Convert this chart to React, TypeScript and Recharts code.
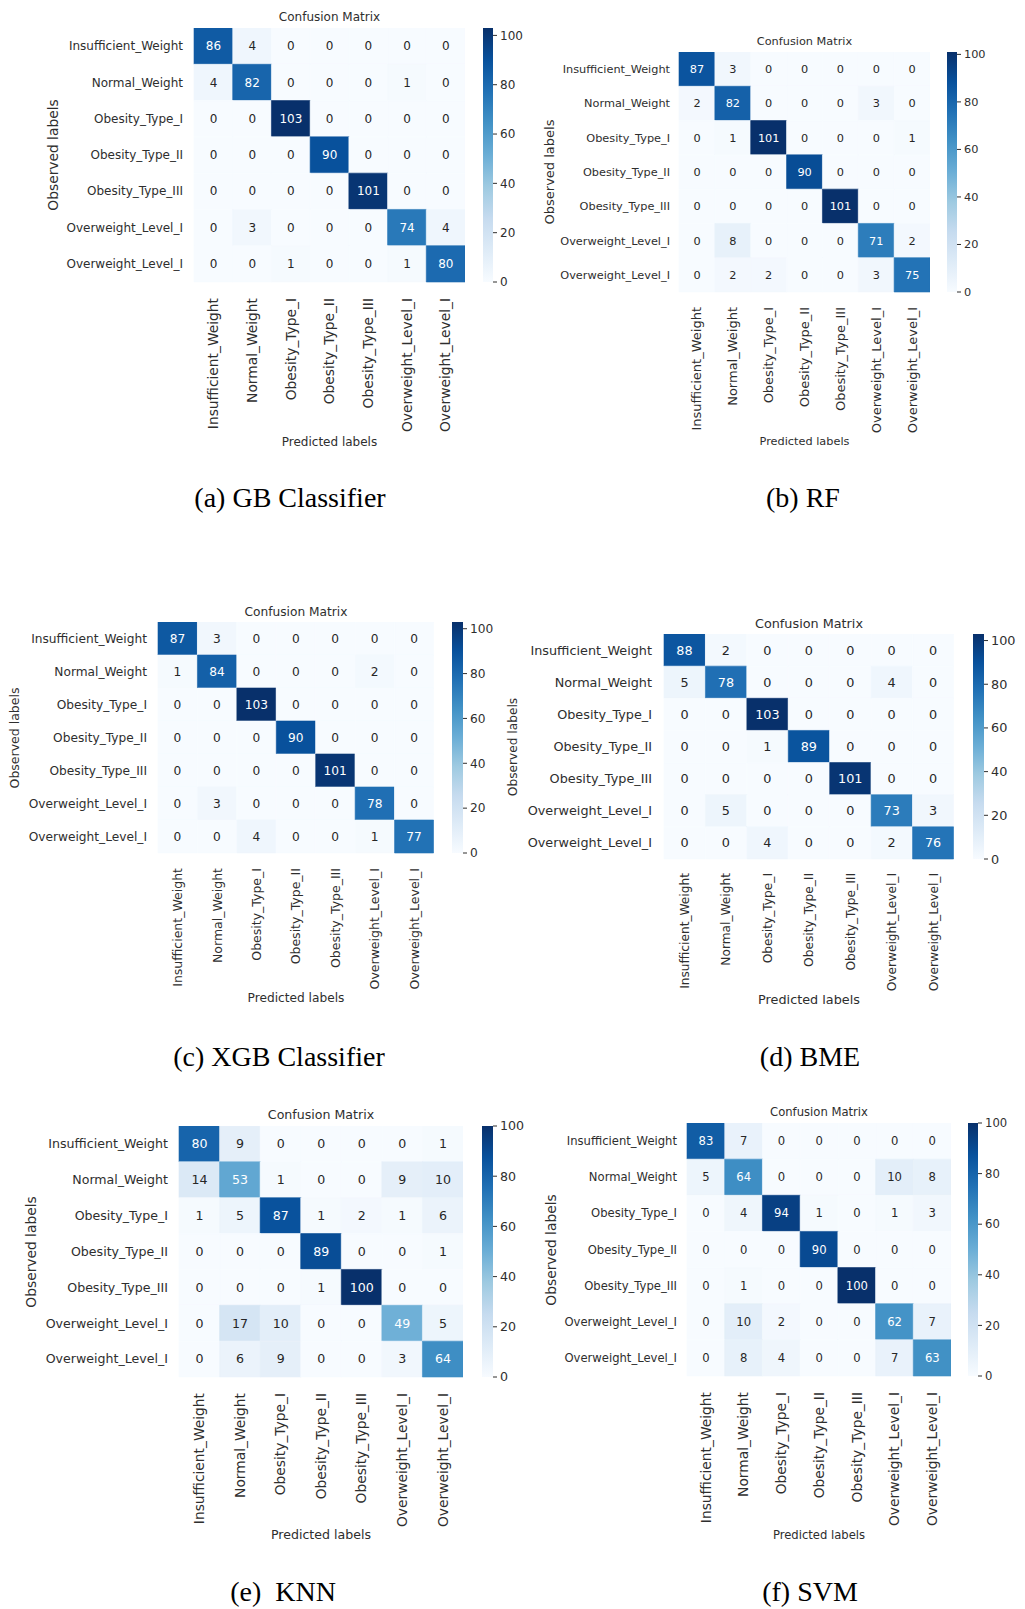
import React from 'react';
import { BarChart, Bar, XAxis, YAxis, Cell, LabelList } from 'recharts';

// class names as printed on both axes (the last one is truncated in the source too)
const classLabels = [
  'Insufficient_Weight',
  'Normal_Weight',
  'Obesity_Type_I',
  'Obesity_Type_II',
  'Obesity_Type_III',
  'Overweight_Level_I',
  'Overweight_Level_I',
];

const colorbarTicks = [0, 20, 40, 60, 80, 100];

// rows = observed, columns = predicted
const gbMatrix = [
  [86, 4, 0, 0, 0, 0, 0],
  [4, 82, 0, 0, 0, 1, 0],
  [0, 0, 103, 0, 0, 0, 0],
  [0, 0, 0, 90, 0, 0, 0],
  [0, 0, 0, 0, 101, 0, 0],
  [0, 3, 0, 0, 0, 74, 4],
  [0, 0, 1, 0, 0, 1, 80],
];
const rfMatrix = [
  [87, 3, 0, 0, 0, 0, 0],
  [2, 82, 0, 0, 0, 3, 0],
  [0, 1, 101, 0, 0, 0, 1],
  [0, 0, 0, 90, 0, 0, 0],
  [0, 0, 0, 0, 101, 0, 0],
  [0, 8, 0, 0, 0, 71, 2],
  [0, 2, 2, 0, 0, 3, 75],
];
const xgbMatrix = [
  [87, 3, 0, 0, 0, 0, 0],
  [1, 84, 0, 0, 0, 2, 0],
  [0, 0, 103, 0, 0, 0, 0],
  [0, 0, 0, 90, 0, 0, 0],
  [0, 0, 0, 0, 101, 0, 0],
  [0, 3, 0, 0, 0, 78, 0],
  [0, 0, 4, 0, 0, 1, 77],
];
const bmeMatrix = [
  [88, 2, 0, 0, 0, 0, 0],
  [5, 78, 0, 0, 0, 4, 0],
  [0, 0, 103, 0, 0, 0, 0],
  [0, 0, 1, 89, 0, 0, 0],
  [0, 0, 0, 0, 101, 0, 0],
  [0, 5, 0, 0, 0, 73, 3],
  [0, 0, 4, 0, 0, 2, 76],
];
const knnMatrix = [
  [80, 9, 0, 0, 0, 0, 1],
  [14, 53, 1, 0, 0, 9, 10],
  [1, 5, 87, 1, 2, 1, 6],
  [0, 0, 0, 89, 0, 0, 1],
  [0, 0, 0, 1, 100, 0, 0],
  [0, 17, 10, 0, 0, 49, 5],
  [0, 6, 9, 0, 0, 3, 64],
];
const svmMatrix = [
  [83, 7, 0, 0, 0, 0, 0],
  [5, 64, 0, 0, 0, 10, 8],
  [0, 4, 94, 1, 0, 1, 3],
  [0, 0, 0, 90, 0, 0, 0],
  [0, 1, 0, 0, 100, 0, 0],
  [0, 10, 2, 0, 0, 62, 7],
  [0, 8, 4, 0, 0, 7, 63],
];

// matplotlib "Blues"
const BLUES = ['#f7fbff', '#deebf7', '#c6dbef', '#9ecae1', '#6baed6', '#4292c6', '#2171b5', '#08519c', '#08306b'];

const hexToRgb = (h: string) => [1, 3, 5].map((k) => parseInt(h.slice(k, k + 2), 16));

const blues = (t: number) => {
  const s = Math.max(0, Math.min(1, t)) * (BLUES.length - 1);
  const i = Math.min(Math.floor(s), BLUES.length - 2);
  const f = s - i;
  const a = hexToRgb(BLUES[i]);
  const b = hexToRgb(BLUES[i + 1]);
  return a.map((c, k) => Math.round(c + (b[k] - c) * f));
};

const rgbStr = (c: number[]) => `rgb(${c[0]},${c[1]},${c[2]})`;

// seaborn picks white text on dark cells
const textOn = (c: number[]) => {
  const lin = c.map((v) => {
    const x = v / 255;
    return x <= 0.03928 ? x / 12.92 : Math.pow((x + 0.055) / 1.055, 2.4);
  });
  const lum = 0.2126 * lin[0] + 0.7152 * lin[1] + 0.0722 * lin[2];
  return lum > 0.408 ? '#262626' : '#ffffff';
};

const FONT = '"DejaVu Sans", sans-serif';
const INK = '#2e2e2e';
const AXIS_W = 150;
const AXIS_H = 150;
const CB_PAD = 10; // room above/below the colorbar so end tick labels are not clipped

const panels = [
  { id: 'a', matrix: gbMatrix, caption: '(a) GB Classifier', L: 194, T: 28, W: 271, H: 254, yGap: 11, xGap: 16, titleY: 17, obsX: 54, predY: 442, cbX: 483, cbW: 10, capX: 290, capY: 498, fs: 12, vfs: 13.8 },
  { id: 'b', matrix: rfMatrix, caption: '(b) RF', L: 679, T: 52, W: 251, H: 240, yGap: 9, xGap: 15, titleY: 42, obsX: 549, predY: 442, cbX: 947, cbW: 10, capX: 803, capY: 498, fs: 11.3, vfs: 13 },
  { id: 'c', matrix: xgbMatrix, caption: '(c) XGB Classifier', L: 158, T: 622, W: 276, H: 231, yGap: 11, xGap: 15, titleY: 612, obsX: 15, predY: 998, cbX: 452, cbW: 11, capX: 279, capY: 1057, fs: 12.2, vfs: 12.5 },
  { id: 'd', matrix: bmeMatrix, caption: '(d) BME', L: 664, T: 634, W: 290, H: 225, yGap: 12, xGap: 14, titleY: 624, obsX: 513, predY: 1000, cbX: 973, cbW: 11, capX: 810, capY: 1057, fs: 12.8, vfs: 12.2 },
  { id: 'e', matrix: knnMatrix, caption: '(e)  KNN', L: 179, T: 1126, W: 284, H: 251, yGap: 11, xGap: 16, titleY: 1115, obsX: 32, predY: 1535, cbX: 482, cbW: 11, capX: 283, capY: 1592, fs: 12.6, vfs: 13.8 },
  { id: 'f', matrix: svmMatrix, caption: '(f) SVM', L: 687, T: 1123, W: 264, H: 253, yGap: 10, xGap: 16, titleY: 1113, obsX: 552, predY: 1536, cbX: 968, cbW: 10, capX: 810, capY: 1592, fs: 11.6, vfs: 13.8 },
];

const centered = (x: number, y: number, extra: React.CSSProperties = {}): React.CSSProperties => ({
  position: 'absolute',
  left: x,
  top: y,
  transform: 'translate(-50%, -50%)',
  whiteSpace: 'nowrap',
  lineHeight: 1,
  ...extra,
});

const Panel = ({ p }: { p: (typeof panels)[number] }) => {
  const vmax = Math.max(...p.matrix.flat());
  const rowIdx = p.matrix.map((_, i) => i);
  const data = classLabels.map((_, j) => {
    const d: Record<string, number> = { col: j };
    p.matrix.forEach((row, i) => {
      d[`r${i}`] = 1;
      d[`v${i}`] = row[j];
    });
    return d;
  });
  const gradId = `blues-${p.id}`;
  const midX = p.L + p.W / 2;

  return (
    <>
      <div style={centered(midX, p.titleY, { fontFamily: FONT, fontSize: p.fs, color: INK })}>Confusion Matrix</div>

      <div style={{ position: 'absolute', left: p.L - AXIS_W, top: p.T }}>
        <BarChart
          width={AXIS_W + p.W}
          height={p.H + AXIS_H}
          data={data}
          margin={{ top: 0, right: 0, bottom: 0, left: 0 }}
          barCategoryGap={0}
          barGap={0}
        >
          <XAxis
            dataKey="col"
            type="category"
            interval={0}
            height={AXIS_H}
            axisLine={false}
            tickLine={false}
            tickSize={0}
            tickMargin={p.xGap}
            tick={(t: any) => (
              <text
                x={t.x}
                y={t.y}
                transform={`rotate(-90, ${t.x}, ${t.y})`}
                textAnchor="end"
                dy="0.35em"
                fontFamily={FONT}
                fontSize={p.vfs}
                fill={INK}
              >
                {classLabels[t.payload.value]}
              </text>
            )}
          />
          <YAxis
            type="number"
            domain={[0, rowIdx.length]}
            reversed
            ticks={rowIdx.map((i) => i + 0.5)}
            interval={0}
            width={AXIS_W}
            axisLine={false}
            tickLine={false}
            tickSize={0}
            tickMargin={p.yGap}
            tick={(t: any) => (
              <text x={t.x} y={t.y} textAnchor="end" dy="0.35em" fontFamily={FONT} fontSize={p.fs} fill={INK}>
                {classLabels[Math.floor(t.payload.value)]}
              </text>
            )}
          />
          {rowIdx.map((i) => (
            <Bar key={i} dataKey={`r${i}`} stackId="cm" isAnimationActive={false}>
              {data.map((_, j) => {
                const c = rgbStr(blues(p.matrix[i][j] / vmax));
                return <Cell key={j} fill={c} stroke={c} strokeWidth={0.6} />;
              })}
              <LabelList
                dataKey={`v${i}`}
                content={(lp: any) => {
                  const v = Number(lp.value);
                  return (
                    <text
                      x={lp.x + lp.width / 2}
                      y={lp.y + lp.height / 2}
                      textAnchor="middle"
                      dy="0.35em"
                      fontFamily={FONT}
                      fontSize={p.fs}
                      fill={textOn(blues(v / vmax))}
                    >
                      {v}
                    </text>
                  );
                }}
              />
            </Bar>
          ))}
        </BarChart>
      </div>

      <div style={{ position: 'absolute', left: p.cbX, top: p.T - CB_PAD }}>
        <BarChart
          width={p.cbW + 40}
          height={p.H + 2 * CB_PAD}
          data={[{ name: 'scale', top: vmax }]}
          margin={{ top: CB_PAD, right: 0, bottom: CB_PAD, left: 0 }}
          barCategoryGap={0}
        >
          <defs>
            <linearGradient id={gradId} x1="0" y1="1" x2="0" y2="0">
              {BLUES.map((c, k) => (
                <stop key={k} offset={k / (BLUES.length - 1)} stopColor={c} />
              ))}
            </linearGradient>
          </defs>
          <XAxis dataKey="name" hide />
          <YAxis
            type="number"
            orientation="right"
            width={40}
            domain={[0, vmax]}
            ticks={colorbarTicks}
            interval={0}
            axisLine={false}
            tickSize={4}
            tickMargin={3}
            tickLine={{ stroke: INK }}
            tick={{ fontFamily: FONT, fontSize: p.fs, fill: INK }}
          />
          <Bar dataKey="top" fill={`url(#${gradId})`} isAnimationActive={false} />
        </BarChart>
      </div>

      <div style={centered(p.obsX, p.T + p.H / 2, { fontFamily: FONT, fontSize: p.vfs, color: INK, transform: 'translate(-50%, -50%) rotate(-90deg)' })}>
        Observed labels
      </div>
      <div style={centered(midX, p.predY, { fontFamily: FONT, fontSize: p.fs, color: INK })}>Predicted labels</div>
      <div style={centered(p.capX, p.capY, { fontFamily: '"Liberation Serif", "Times New Roman", serif', fontSize: 28, color: '#000', whiteSpace: 'pre' })}>
        {p.caption}
      </div>
    </>
  );
};

export default function App() {
  return (
    <div style={{ position: 'absolute', left: 0, top: 0, width: 1025, height: 1609, background: '#fff', overflow: 'hidden' }}>
      {panels.map((p) => (
        <Panel key={p.id} p={p} />
      ))}
    </div>
  );
}
